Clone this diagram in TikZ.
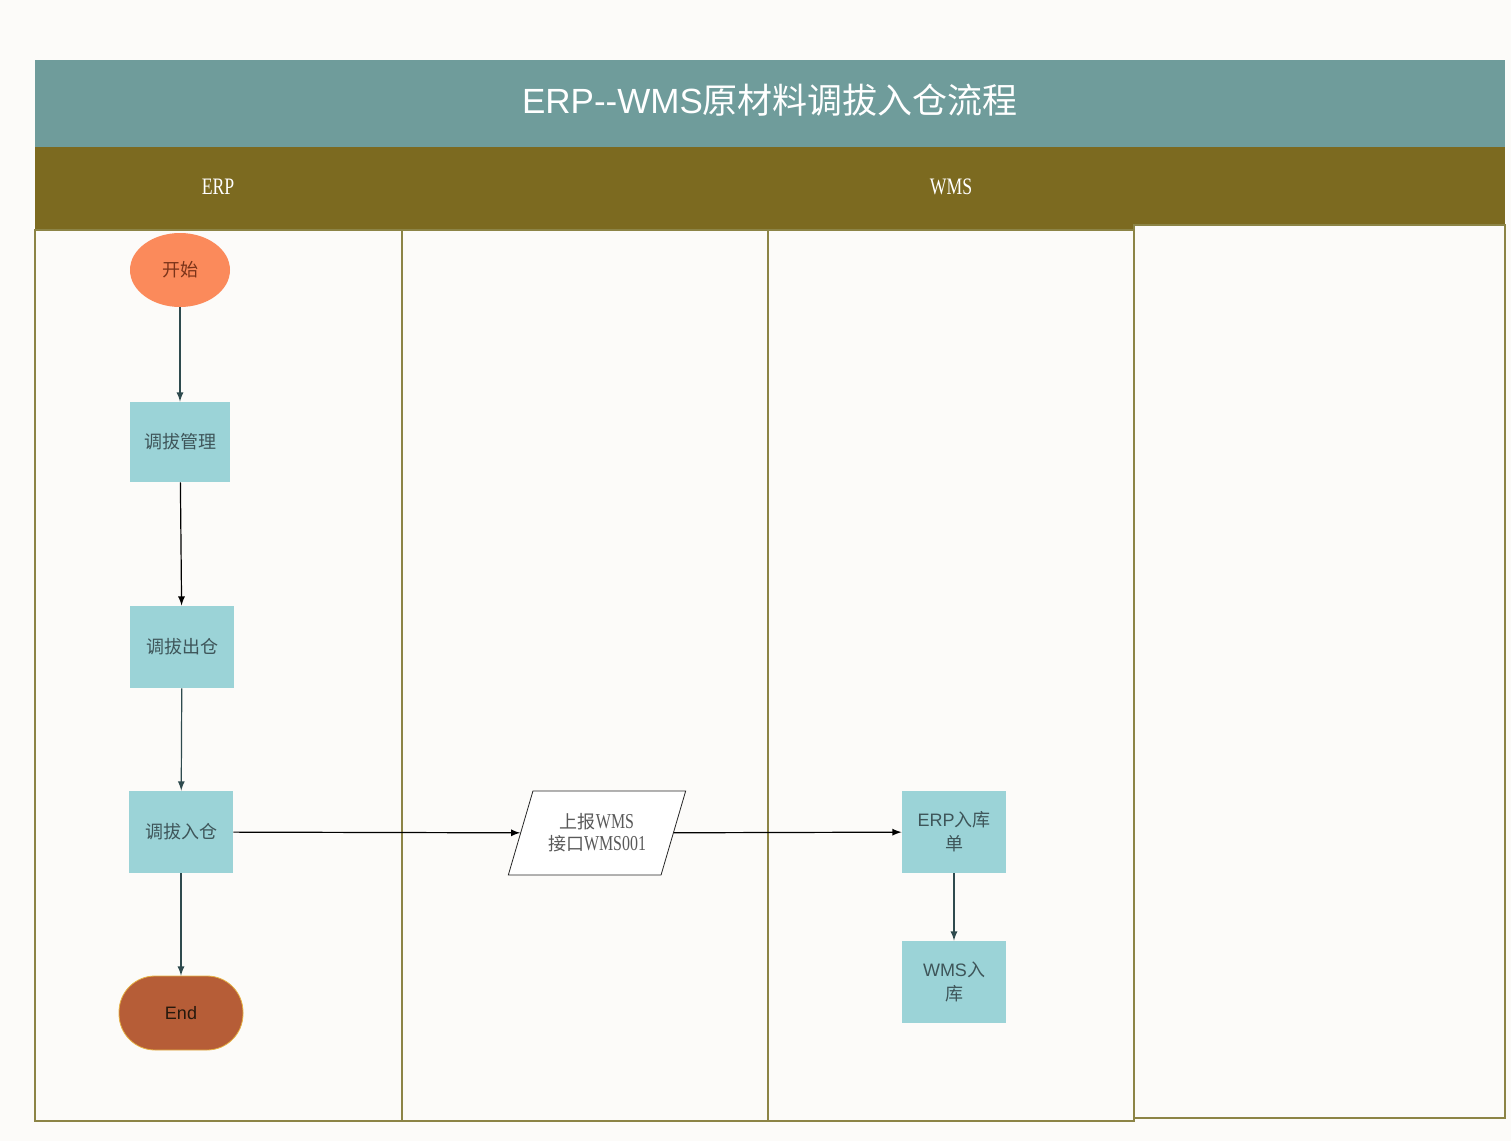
\documentclass[tikz,border=0pt]{standalone}
\usepackage{fontspec}
\setmainfont{Liberation Sans}
\newfontfamily\cjk{Noto Sans CJK SC}
\newfontfamily\narrowserif[FakeStretch=0.75, Scale=1.18]{Liberation Serif}
\usetikzlibrary{shapes.geometric}
\definecolor{paper}{HTML}{FCFBF9}
\definecolor{titlebar}{HTML}{6F9C9B}
\definecolor{laneband}{HTML}{7C6A20}
\definecolor{laneline}{HTML}{8C8446}
\definecolor{boxfill}{HTML}{9BD3D7}
\definecolor{boxtext}{HTML}{3E5559}
\definecolor{startfill}{HTML}{FB8A5B}
\definecolor{endfill}{HTML}{B65D37}
\definecolor{endline}{HTML}{E6B346}
\definecolor{flow}{HTML}{2E4A4E}
\begin{document}
\begin{tikzpicture}[x=0.5pt, y=-0.5pt,
  stepbox/.style={fill=boxfill, text=boxtext, minimum width=52pt, minimum height=41pt,
    inner sep=1pt, align=center, font=\fontsize{9}{12}\selectfont},
  startnode/.style={ellipse, fill=startfill, text=black!70!red!60!brown, minimum width=50pt,
    minimum height=37pt, inner sep=0pt, font=\fontsize{9}{11}\selectfont},
  endnode/.style={rounded corners=18pt, draw=endline, fill=endfill, text=black!80!brown,
    minimum width=62pt, minimum height=37pt, font=\fontsize{9}{11}\selectfont},
  datanode/.style={trapezium, trapezium left angle=64, trapezium right angle=116,
    trapezium stretches=true, draw=black!85, fill=white, text=black!65, minimum width=89pt,
    minimum height=42pt, inner sep=0pt, align=center, font=\fontsize{9}{11}\selectfont},
  flowline/.style={-latex, draw=flow, line width=0.6pt}]
\useasboundingbox [fill=paper] (0,0) rectangle (1511,1141);
% title and lane header
\fill [titlebar] (35,60) rectangle (1505,147);
\fill [laneband] (35,147) rectangle (1134,230);
\fill [laneband] (1134,147) rectangle (1505,225);
\node (title) [text=white, font=\fontsize{17.5}{20}\selectfont] at (770,100) {ERP-{}-WMS{\cjk 原材料调拔入仓流程}};
\node (erp) [text=white, font=\narrowserif\fontsize{10}{12}\selectfont] at (218,187) {ERP};
\node (wms) [text=white, font=\narrowserif\fontsize{10}{12}\selectfont] at (951,187) {WMS};
% lanes
\draw [laneline, line width=1pt] (35,230) rectangle (402,1121);
\draw [laneline, line width=1pt] (402,230) rectangle (768,1121);
\draw [laneline, line width=1pt] (768,230) rectangle (1134,1121);
\draw [laneline, line width=1pt] (1134,225) rectangle (1505,1118);
% steps
\node (start) [startnode] at (180,270) {\cjk 开始};
\node (manage) [stepbox, minimum width=50pt, minimum height=40pt] at (180,442) {\cjk 调拔管理};
\node (out) [stepbox] at (182,647) {\cjk 调拔出仓};
\node (in) [stepbox] at (181,832) {\cjk 调拔入仓};
\node (end) [endnode] at (181,1013) {End};
\node (report) [datanode] at (597,833) {{\cjk 上报}{\narrowserif WMS}\\{\cjk 接口}{\narrowserif WMS001}};
\node (erpin) [stepbox] at (954,832) {ERP{\cjk 入库}\\{\cjk 单}};
\node (wmsin) [stepbox] at (954,982) {WMS{\cjk 入}\\{\cjk 库}};
% flow
\draw [flowline] (start) -- (manage);
\draw [flowline, draw=black] (manage) -- (out);
\draw [flowline] (out) -- (in);
\draw [flowline, draw=black] (in) -- (report);
\draw [flowline, draw=black] (report) -- (erpin);
\draw [flowline] (in) -- (end);
\draw [flowline] (erpin) -- (wmsin);
\end{tikzpicture}
\end{document}
